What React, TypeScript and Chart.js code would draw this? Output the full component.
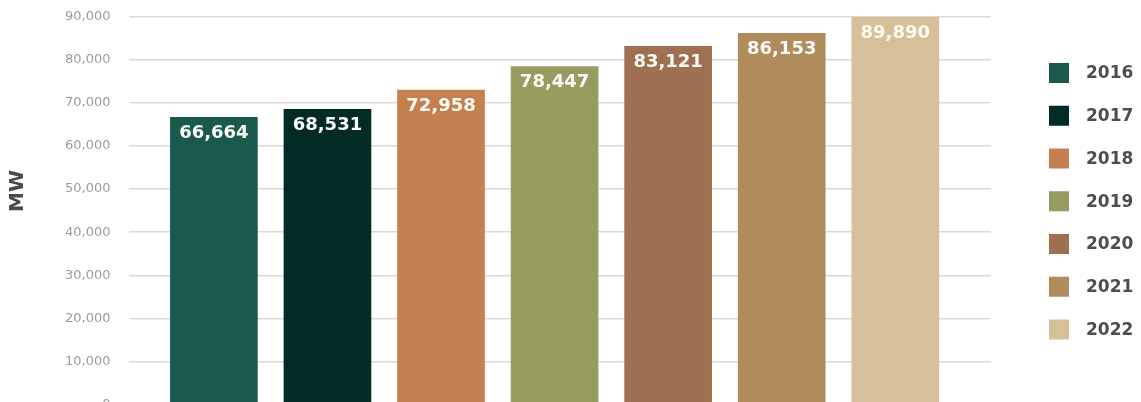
import React, { useEffect, useRef } from "react";
import { Chart, registerables } from "chart.js";

Chart.register(...registerables);

const categories = ["2016", "2017", "2018", "2019", "2020", "2021", "2022"];
const capacityMW = [66664, 68531, 72958, 78447, 83121, 86153, 89890];
const barColors = ["#1a5a4c", "#032b26", "#c4814f", "#979d60", "#9e6f51", "#b08b5b", "#d6c099"];
const yTicks = [0, 10000, 20000, 30000, 40000, 50000, 60000, 70000, 80000, 90000];
const axisTitle = "MW";

const fmt = (v: number) => v.toLocaleString("en-US");

export default function App() {
  const ref = useRef<HTMLCanvasElement>(null);

  useEffect(() => {
    if (!ref.current) return;

    const valueLabels = {
      id: "valueLabels",
      afterDatasetsDraw(chart: any) {
        const ctx = chart.ctx;
        const meta = chart.getDatasetMeta(0);
        ctx.save();
        ctx.font = "bold 18px 'DejaVu Sans'";
        ctx.fillStyle = "#fbfaf4";
        ctx.textAlign = "center";
        ctx.textBaseline = "alphabetic";
        meta.data.forEach((el: any, i: number) => {
          ctx.fillText(fmt(capacityMW[i]), el.x, el.y + 21);
        });
        ctx.restore();
      },
    };

    const sideLegend = {
      id: "sideLegend",
      afterDraw(chart: any) {
        const ctx = chart.ctx;
        ctx.save();
        ctx.font = "bold 17px 'DejaVu Sans'";
        ctx.textAlign = "left";
        ctx.textBaseline = "middle";
        categories.forEach((c, i) => {
          const cy = 73 + i * 42.75;
          ctx.fillStyle = barColors[i];
          ctx.fillRect(1049, cy - 10, 20, 20);
          ctx.fillStyle = "#4d4d4d";
          ctx.fillText(c, 1086, cy + 1);
        });
        ctx.restore();
      },
    };

    const yTitle = {
      id: "yTitle",
      afterDraw(chart: any) {
        const ctx = chart.ctx;
        ctx.save();
        ctx.translate(18, 191);
        ctx.rotate(-Math.PI / 2);
        ctx.font = "bold 20px 'DejaVu Sans'";
        ctx.fillStyle = "#4a4a4a";
        ctx.textAlign = "center";
        ctx.textBaseline = "middle";
        ctx.fillText(axisTitle, 0, 0);
        ctx.restore();
      },
    };

    const chart = new Chart(ref.current, {
      type: "bar",
      data: {
        labels: categories,
        datasets: [
          {
            label: axisTitle,
            data: capacityMW.map((v, i) => ({ x: i, y: v })) as any,
            backgroundColor: barColors,
            borderWidth: 0,
            barThickness: 87,
          },
        ],
      },
      options: {
        animation: false,
        responsive: false,
        maintainAspectRatio: false,
        devicePixelRatio: 1,
        layout: { padding: { top: 16.7, bottom: 5.4, left: 0, right: 150 } },
        plugins: {
          legend: { display: false },
          tooltip: { enabled: false },
        },
        scales: {
          x: {
            type: "linear",
            display: false,
            offset: false,
            min: -0.752,
            max: 6.843,
          },
          y: {
            min: 0,
            max: 90000,
            afterFit(scale: any) {
              scale.width = 128.5;
              scale.paddingTop = 0;
              scale.paddingBottom = 0;
            },
            afterBuildTicks(scale: any) {
              scale.ticks = yTicks.map((v) => ({ value: v }));
            },
            border: { display: false },
            grid: { color: "#d9d9d9", lineWidth: 1.5, drawTicks: false },
            ticks: {
              padding: 18,
              color: "#9b9b9b",
              font: { family: "'DejaVu Sans'", size: 13 },
              callback: (v: any) => fmt(Number(v)),
            },
          },
        },
      },
      plugins: [valueLabels, sideLegend, yTitle],
    });

    return () => chart.destroy();
  }, []);

  return (
    <div
      style={{
        position: "absolute",
        left: 0,
        top: 0,
        width: 1141,
        height: 402,
        overflow: "hidden",
        background: "#ffffff",
      }}
    >
      <canvas ref={ref} width={1141} height={410} style={{ display: "block", width: 1141, height: 410 }} />
    </div>
  );
}
